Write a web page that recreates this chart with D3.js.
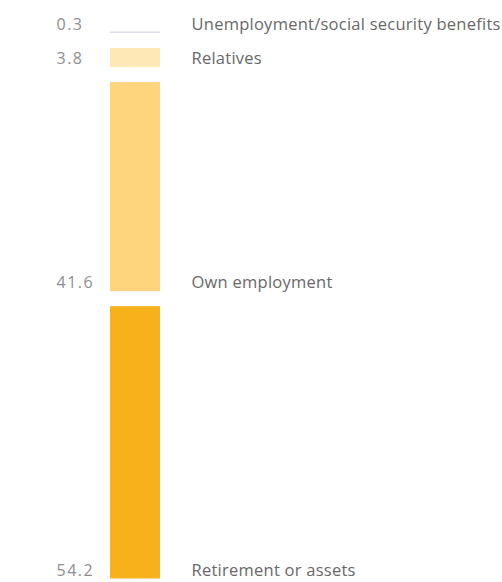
<!DOCTYPE html>
<html><head><meta charset="utf-8">
<script src="https://cdn.jsdelivr.net/npm/d3@7"></script>
<style>html,body{margin:0;padding:0;background:#fff;overflow:hidden}</style>
</head><body>
<svg id="c" width="502" height="582"></svg>
<script>
const categories = ["Unemployment/social security benefits", "Relatives", "Own employment", "Retirement or assets"];
const values = [0.3, 3.8, 41.6, 54.2];
const valueLabels = ["0.3", "3.8", "41.6", "54.2"];
const colors = ["#dcdfe9", "#fee8b6", "#fed47d", "#f8b11b"];

const svg = d3.select("#c");
const gap = 15, startY = 31.5, barX = 110, barW = 50;
const total = d3.sum(values);
const y = d3.scaleLinear().domain([0, total]).range([0, 502]);

let cur = startY;
const segs = values.map((v, i) => {
  const h = Math.max(y(v), 1.5);
  const s = {i, y0: cur, h};
  cur += h + gap;
  return s;
});

svg.selectAll("rect.seg").data(segs).join("rect")
  .attr("class", "seg")
  .attr("x", barX).attr("width", barW)
  .attr("y", d => d.y0).attr("height", d => d.h)
  .attr("fill", d => colors[d.i]);

const labelY = d => d.h < 5 ? d.y0 + d.h - 3.5 : d.y0 + d.h - 3;

svg.selectAll("text.val").data(segs).join("text")
  .attr("class", "val")
  .attr("x", 56.5).attr("y", labelY)
  .attr("font-family", "'Open Sans', sans-serif")
  .attr("font-size", 16)
  .attr("letter-spacing", 1.5)
  .attr("fill", "#8e8e8e")
  .text(d => valueLabels[d.i]);

svg.selectAll("text.cat").data(segs).join("text")
  .attr("class", "cat")
  .attr("x", 191.5).attr("y", labelY)
  .attr("font-family", "'Open Sans', sans-serif")
  .attr("font-size", 16.5)
  .attr("letter-spacing", 0.25)
  .attr("fill", "#686868")
  .text(d => categories[d.i]);
</script>
</body></html>
